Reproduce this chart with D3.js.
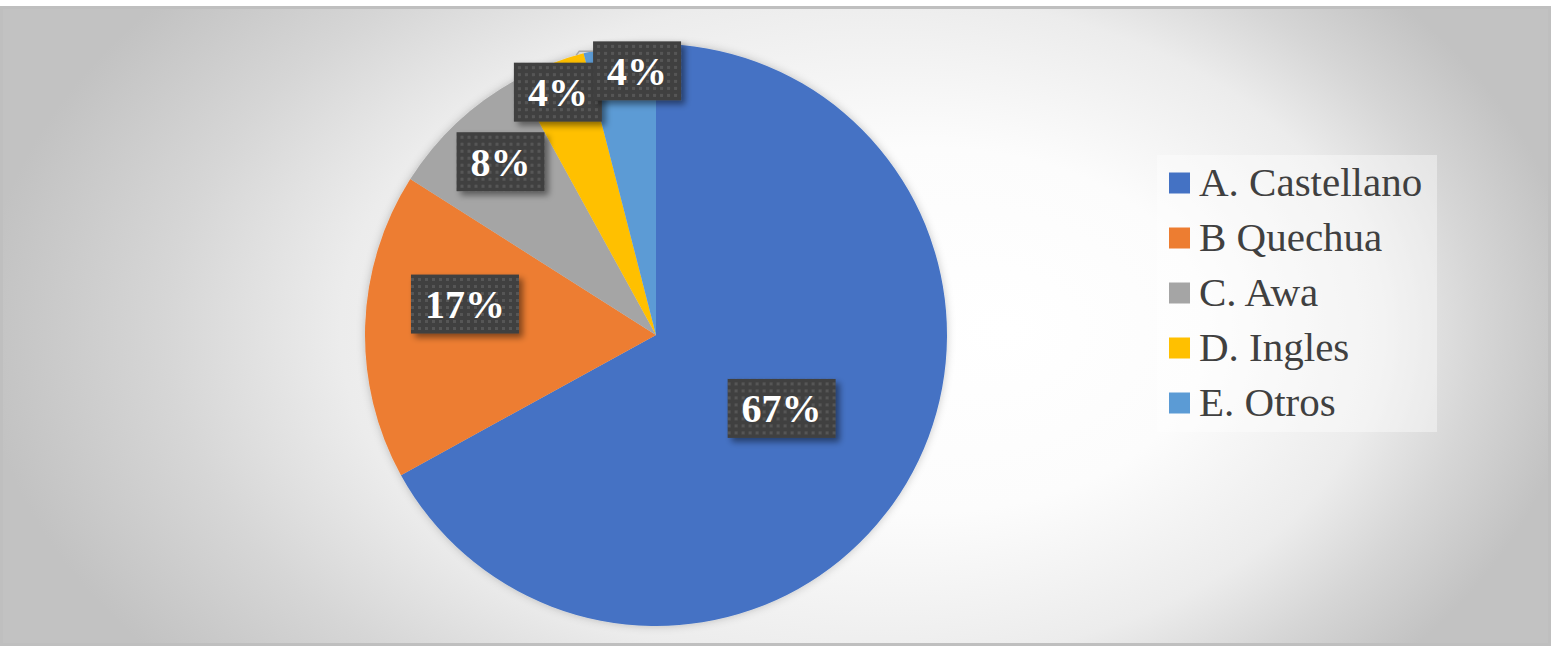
<!DOCTYPE html>
<html><head><meta charset="utf-8">
<script src="https://cdn.jsdelivr.net/npm/d3@7"></script>
<style>body{margin:0;background:#fff;} svg{display:block}</style>
</head><body>
<svg id="chart" width="1563" height="649"></svg>
<script>
// ---- data ----
const categories = ["A. Castellano", "B Quechua", "C. Awa", "D. Ingles", "E. Otros"];
const values = [67, 17, 8, 4, 4];
const valueLabels = ["67%", "17%", "8%", "4%", "4%"];
const colors = ["#4472C4", "#ED7D31", "#A5A5A5", "#FFC000", "#5B9BD5"];

// ---- layout (label placement relative to slices) ----
const labelRadiusFrac = [0.5, 0.665, 0.8, 0.9, 0.91];
const labelAngleShiftDeg = [-0.3, 7.4, 1.3, -0.4, 3.1];

const W = 1563, H = 649;
const cx = 656, cy = 335, R = 291;

const svg = d3.select("#chart");
const defs = svg.append("defs");

// background gradient
const bg = defs.append("radialGradient").attr("id", "bgGrad")
  .attr("gradientUnits", "userSpaceOnUse")
  .attr("cx", 780).attr("cy", 330).attr("r", 800)
  .attr("fx", 1010).attr("fy", 330)
  .attr("gradientTransform", "translate(0,330) scale(1,0.65) translate(0,-330)");
[[0, "#ffffff"], [0.35, "#fcfcfc"], [0.65, "#ececec"], [0.82, "#d6d6d6"], [1, "#c2c2c2"]]
  .forEach(([o, c]) => bg.append("stop").attr("offset", o).attr("stop-color", c));

// dotted pattern for label boxes
const pat = defs.append("pattern").attr("id", "dots")
  .attr("patternUnits", "userSpaceOnUse").attr("width", 7).attr("height", 7);
pat.append("rect").attr("width", 7).attr("height", 7).attr("fill", "#404040");
pat.append("rect").attr("x", 2).attr("y", 2).attr("width", 3).attr("height", 3).attr("fill", "#575757");

// shadows
const sh = defs.append("filter").attr("id", "boxShadow")
  .attr("x", "-20%").attr("y", "-20%").attr("width", "150%").attr("height", "160%");
sh.append("feDropShadow").attr("dx", 4).attr("dy", 4).attr("stdDeviation", 3)
  .attr("flood-color", "#000").attr("flood-opacity", 0.45);
const psh = defs.append("filter").attr("id", "pieShadow")
  .attr("x", "-10%").attr("y", "-10%").attr("width", "120%").attr("height", "120%");
psh.append("feDropShadow").attr("dx", 0).attr("dy", 0).attr("stdDeviation", 4)
  .attr("flood-color", "#000").attr("flood-opacity", 0.22);

// frame
svg.append("rect").attr("x", 1.5).attr("y", 7.5).attr("width", 1548).attr("height", 637)
  .attr("fill", "url(#bgGrad)").attr("stroke", "#bfbfbf").attr("stroke-width", 3);

// pie
const pie = d3.pie().sort(null).value(d => d)(values);
const arc = d3.arc().innerRadius(0).outerRadius(R);
const g = svg.append("g").attr("transform", `translate(${cx},${cy})`);
g.append("g").attr("filter", "url(#pieShadow)")
  .selectAll("path").data(pie).join("path")
  .attr("d", arc).attr("fill", (d, i) => colors[i]);

// leader line group (drawn beneath labels)
const leaderG = g.append("g");

// labels
const lg = g.append("g");
const boxes = [];
pie.forEach((d, i) => {
  const a = (d.startAngle + d.endAngle) / 2 + labelAngleShiftDeg[i] * Math.PI / 180;
  const r = R * labelRadiusFrac[i];
  const x = Math.sin(a) * r, y = -Math.cos(a) * r;
  const grp = lg.append("g").attr("transform", `translate(${x},${y})`);
  const rect = grp.append("rect").attr("fill", "url(#dots)").attr("filter", "url(#boxShadow)");
  const t = grp.append("text").text(valueLabels[i])
    .attr("text-anchor", "middle").attr("y", 14)
    .attr("font-family", "'Liberation Serif','Times New Roman',serif")
    .attr("font-weight", "bold").attr("font-size", 40).attr("fill", "#ffffff");
  const tw = t.node().getComputedTextLength();
  const bw = tw + 28, bh = 59;
  rect.attr("x", -bw / 2).attr("y", -bh / 2).attr("width", bw).attr("height", bh);
  boxes.push({x, y, bw, bh});
});

// small leader line for the last slice label
{
  const last = pie.length - 1;
  const a0 = pie[last].startAngle - 1.5 * Math.PI / 180;
  const p0 = [Math.sin(a0) * R, -Math.cos(a0) * R];
  const p1 = [p0[0] + 3, p0[1] - 4];
  const b = boxes[last];
  const p2 = [b.x - b.bw / 2, p1[1]];
  leaderG.append("path").attr("d", d3.line()([p0, p1, p2]))
    .attr("fill", "none").attr("stroke", "#a6a6a6").attr("stroke-width", 1.5);
}

// legend
const legX = 1157, legY = 155;
svg.append("rect").attr("x", legX).attr("y", legY).attr("width", 280).attr("height", 277)
  .attr("fill", "#ffffff").attr("fill-opacity", 0.4);
const leg = svg.append("g");
categories.forEach((c, i) => {
  const yc = 183 + i * 55;
  leg.append("rect").attr("x", 1169).attr("y", yc - 10.5).attr("width", 21).attr("height", 21)
    .attr("fill", colors[i]);
  leg.append("text").text(c).attr("x", 1199).attr("y", yc + 13)
    .attr("font-family", "'Liberation Serif','Times New Roman',serif")
    .attr("font-size", 41).attr("fill", "#404040");
});
</script>
</body></html>
